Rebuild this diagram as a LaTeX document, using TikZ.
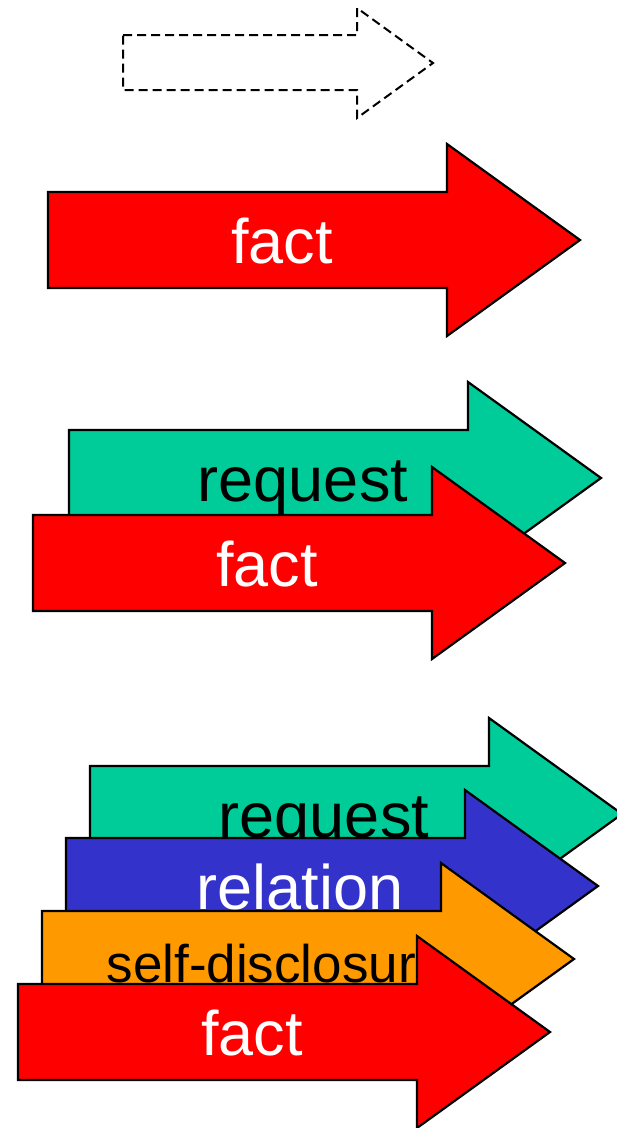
\documentclass[tikz,border=0pt]{standalone}
\usepackage{fontspec}
\setmainfont{Liberation Sans}

\definecolor{reqgreen}{HTML}{00CC99}
\definecolor{relblue}{HTML}{3333CC}
\definecolor{selforange}{HTML}{FF9900}
\definecolor{factred}{HTML}{FF0000}

\tikzset{
  msgarrow/.style={draw=black,line width=2.2pt,line join=miter},
  msgtext/.style={anchor=base,inner sep=0pt},
}

\begin{document}
\begin{tikzpicture}[x=1pt,y=-1pt]
\useasboundingbox (0,0) rectangle (617,1128);
% empty message, outline only
\draw[dash pattern=on 9pt off 5pt,line width=2pt] (123,35) -- (357,35) -- (357,8) -- (433,63) -- (357,118) -- (357,90) -- (123,90) -- cycle;
% one arrow per layer, drawn back to front
\foreach \px/\py/\col/\tcol/\tsize/\txt in {
  48/192/factred/white/63/fact,
  69/430/reqgreen/black/63/request,
  33/515/factred/white/63/fact,
  90/766/reqgreen/black/63/request,
  66/838/relblue/white/63/relation,
  42/911/selforange/black/53/self-disclosure,
  18/984/factred/white/63/fact}
{
  \begin{scope}[shift={(\px,\py)}]
    \filldraw[msgarrow,fill=\col] (0,0) -- (399,0) -- (399,-48) -- (532,48) -- (399,144) -- (399,96) -- (0,96) -- cycle;
    \node[msgtext,text=\tcol,font=\fontsize{\tsize}{\tsize}\selectfont] (\txt-\px) at (234,71) {\txt};
  \end{scope}
}
\end{tikzpicture}
\end{document}
